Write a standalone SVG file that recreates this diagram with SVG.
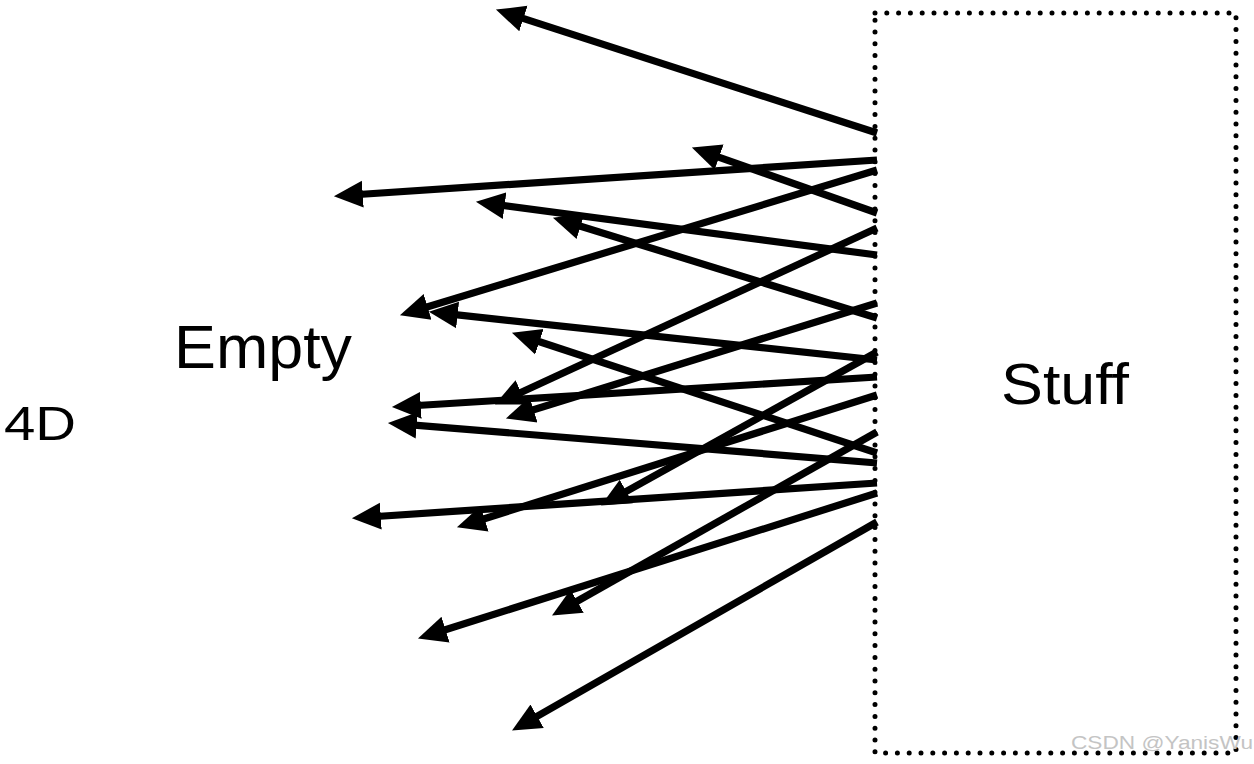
<svg xmlns="http://www.w3.org/2000/svg" width="1254" height="764" viewBox="0 0 1254 764">
  <style>
    .lbl { font-family: "Liberation Sans", Arial, sans-serif; fill: #000; }
    .arr { stroke: #000; stroke-width: 7.2; fill: none; marker-end: url(#head); }
    .box { fill: none; stroke: #000; stroke-width: 5; stroke-dasharray: 0 11.8; stroke-linecap: round; }
    .wm { font-family: "Liberation Sans", Arial, sans-serif; fill: #c4c4c4; }
  </style>
  <defs>
    <marker id="head" markerUnits="userSpaceOnUse" markerWidth="30" markerHeight="30" viewBox="0 -13 28 26" refX="11" refY="0" orient="auto">
      <path d="M0,-12.5 L27,0 L0,12.5 z" fill="#000"/>
    </marker>
  </defs>
  <rect width="1254" height="764" fill="#fff"/>

  <g id="stuff">
    <rect class="box" x="875" y="13" width="361" height="740"/>
    <text class="lbl" x="1001" y="404" font-size="58" textLength="128" lengthAdjust="spacingAndGlyphs">Stuff</text>
  </g>

  <g id="empty">
    <text class="lbl" x="174" y="368" font-size="61" textLength="178" lengthAdjust="spacingAndGlyphs">Empty</text>
  </g>

  <g id="label-4d">
    <text class="lbl" x="4" y="440" font-size="48" textLength="72" lengthAdjust="spacingAndGlyphs">4D</text>
  </g>

  <g id="connectors">
    <line class="arr" x1="877" y1="133" x2="512.2" y2="14.9"/>
    <line class="arr" x1="877" y1="160" x2="351" y2="195"/>
    <line class="arr" x1="877" y1="213" x2="708" y2="153.3"/>
    <line class="arr" x1="877" y1="170" x2="416.3" y2="310.3"/>
    <line class="arr" x1="877" y1="255" x2="492.9" y2="204.1"/>
    <line class="arr" x1="877" y1="318" x2="569.3" y2="222.7"/>
    <line class="arr" x1="877" y1="360" x2="445.9" y2="313.7"/>
    <line class="arr" x1="877" y1="228" x2="510.5" y2="397.3"/>
    <line class="arr" x1="877" y1="303" x2="522.3" y2="413.3"/>
    <line class="arr" x1="877" y1="453" x2="528.2" y2="338"/>
    <line class="arr" x1="877" y1="377" x2="409" y2="406"/>
    <line class="arr" x1="877" y1="463" x2="405" y2="424.3"/>
    <line class="arr" x1="877" y1="483" x2="369" y2="517"/>
    <line class="arr" x1="877" y1="395" x2="473.3" y2="522.2"/>
    <line class="arr" x1="877" y1="352" x2="616" y2="497.2"/>
    <line class="arr" x1="877" y1="432" x2="566.9" y2="607"/>
    <line class="arr" x1="877" y1="493" x2="434.3" y2="633.2"/>
    <line class="arr" x1="877" y1="522" x2="526.9" y2="722.1"/>
  </g>

  <text class="wm" x="1071" y="749" font-size="18" textLength="182" lengthAdjust="spacingAndGlyphs">CSDN @YanisWu</text>
</svg>
